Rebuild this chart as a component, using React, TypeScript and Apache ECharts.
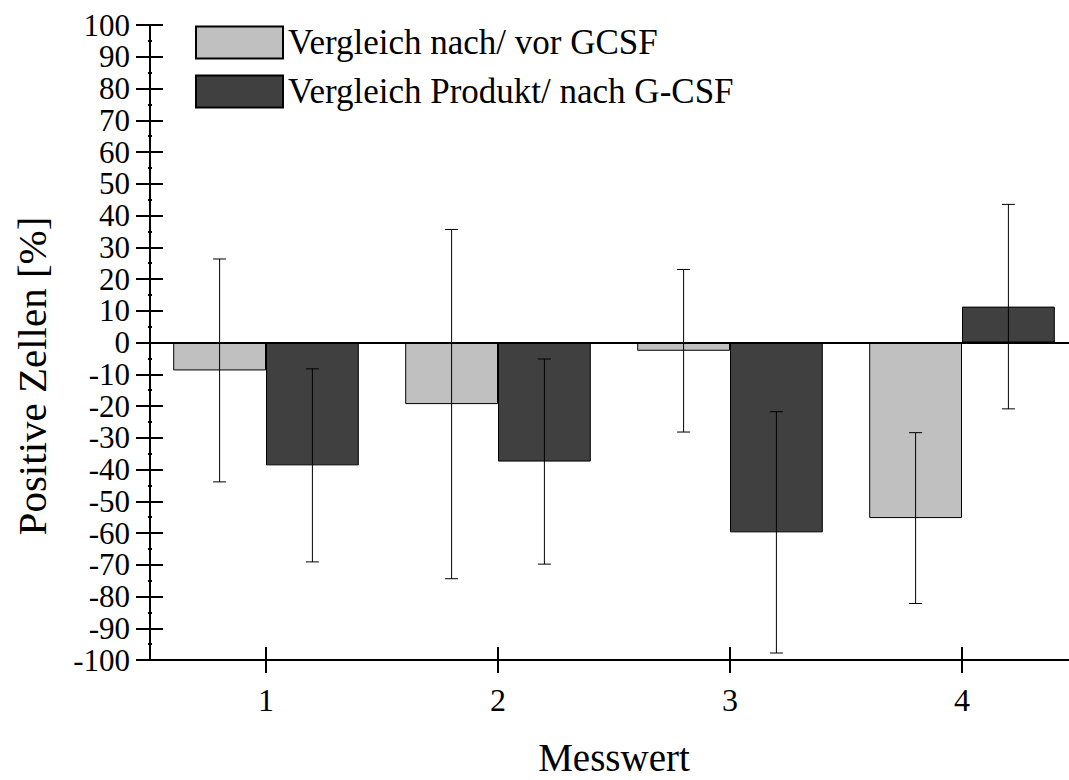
import React, { useEffect, useRef } from "react";
import * as echarts from "echarts";

const categories = ["1", "2", "3", "4"];
const nameA = "Vergleich nach/ vor GCSF";
const nameB = "Vergleich Produkt/ nach G-CSF";
const valuesA = [-8.8, -19.4, -2.6, -55.3];
const errorsA = [35.1, 55.0, 25.6, 26.9];
const valuesB = [-38.7, -37.5, -59.8, 11.3];
const errorsB = [30.4, 32.3, 38.0, 32.2];
const yMin = -100;
const yMax = 100;
const yStep = 10;

const FONT = "'Liberation Serif', 'Times New Roman', Times, serif";
const CATEGORY_GAP = 0.2;

function errorSeries(values: number[], errors: number[], side: number) {
  return {
    type: "custom",
    xAxisIndex: 0,
    yAxisIndex: 0,
    z: 5,
    silent: true,
    encode: { x: 0, y: 1 },
    data: values.map((v, i) => [i, v, errors[i]]),
    renderItem: (_params: any, api: any) => {
      const idx = api.value(0);
      const v = api.value(1);
      const e = api.value(2);
      const band = api.size([1, 0])[0];
      const barW = (band * (1 - CATEGORY_GAP)) / 2;
      const top = api.coord([idx, v + e]);
      const bot = api.coord([idx, v - e]);
      const cx = top[0] + (side * barW) / 2;
      const cap = 6.5;
      const style = { stroke: "#000", lineWidth: 1 };
      return {
        type: "group",
        children: [
          { type: "line", shape: { x1: cx, y1: top[1], x2: cx, y2: bot[1] }, style },
          { type: "line", shape: { x1: cx - cap, y1: top[1], x2: cx + cap, y2: top[1] }, style },
          { type: "line", shape: { x1: cx - cap, y1: bot[1], x2: cx + cap, y2: bot[1] }, style },
        ],
      };
    },
  };
}

export default function App() {
  const ref = useRef<HTMLDivElement>(null);

  useEffect(() => {
    if (!ref.current) return;
    const chart = echarts.init(ref.current, null, { renderer: "svg" });
    const axisLineStyle = { color: "#000", width: 2 };

    chart.setOption({
      animation: false,
      backgroundColor: "#fff",
      textStyle: { fontFamily: FONT, color: "#000" },
      grid: { left: 150, top: 25, width: 928, height: 635, outerBoundsMode: "none" },
      legend: {
        orient: "vertical",
        left: 190,
        top: 20,
        itemWidth: 87,
        itemHeight: 32,
        itemGap: 14,
        icon: "rect",
        data: [nameA, nameB],
        textStyle: { fontFamily: FONT, fontSize: 35, color: "#000" },
      },
      xAxis: [
        {
          type: "category",
          data: categories,
          position: "bottom",
          axisLine: { show: true, onZero: false, lineStyle: axisLineStyle },
          axisTick: { show: true, alignWithLabel: true, length: 13, lineStyle: axisLineStyle },
          axisLabel: { fontFamily: FONT, fontSize: 32, color: "#000", margin: 24 },
          name: "Messwert",
          nameLocation: "middle",
          nameGap: 78,
          nameTextStyle: { fontFamily: FONT, fontSize: 39, color: "#000" },
        },
        {
          type: "category",
          data: categories,
          position: "bottom",
          axisLine: { show: false, onZero: false },
          axisTick: { show: true, inside: true, alignWithLabel: true, length: 13, lineStyle: axisLineStyle },
          axisLabel: { show: false },
        },
      ],
      yAxis: [
        {
          type: "value",
          min: yMin,
          max: yMax,
          interval: yStep,
          position: "left",
          axisLine: { show: true, onZero: false, lineStyle: axisLineStyle },
          axisTick: { show: true, length: 14, lineStyle: axisLineStyle },
          minorTick: { show: true, splitNumber: 2, length: 2, lineStyle: { color: "#000", width: 2 } },
          axisLabel: { fontFamily: FONT, fontSize: 31, color: "#000", margin: 20 },
          splitLine: { show: false },
        },
        {
          type: "value",
          min: yMin,
          max: yMax,
          interval: yStep,
          position: "left",
          axisLine: { show: false, onZero: false },
          axisTick: { show: true, inside: true, length: 13, lineStyle: axisLineStyle },
          minorTick: { show: true, splitNumber: 2, length: 2, lineStyle: { color: "#000", width: 2 } },
          axisLabel: { show: false },
          splitLine: { show: false },
        },
      ],
      graphic: [
        {
          type: "text",
          x: 32,
          y: 376,
          rotation: Math.PI / 2,
          style: {
            text: "Positive Zellen [%]",
            fontFamily: FONT,
            fontSize: 41,
            fill: "#000",
            align: "center",
            verticalAlign: "middle",
          },
        },
      ],
      series: [
        {
          name: nameA,
          type: "bar",
          xAxisIndex: 0,
          yAxisIndex: 0,
          data: valuesA,
          barGap: "0%",
          barCategoryGap: "20%",
          itemStyle: { color: "#c0c0c0", borderColor: "#000", borderWidth: 1 },
        },
        {
          name: nameB,
          type: "bar",
          xAxisIndex: 0,
          yAxisIndex: 0,
          data: valuesB,
          barGap: "0%",
          barCategoryGap: "20%",
          itemStyle: { color: "#404040", borderColor: "#000", borderWidth: 1 },
          markLine: {
            silent: true,
            symbol: ["none", "none"],
            label: { show: false },
            lineStyle: { color: "#000", width: 2, type: "solid" },
            data: [{ yAxis: 0 }],
          },
        },
        errorSeries(valuesA, errorsA, -1),
        errorSeries(valuesB, errorsB, 1),
      ],
    });

    return () => chart.dispose();
  }, []);

  return (
    <div
      ref={ref}
      style={{ position: "absolute", left: 0, top: 0, width: 1069, height: 780, background: "#fff" }}
    />
  );
}
